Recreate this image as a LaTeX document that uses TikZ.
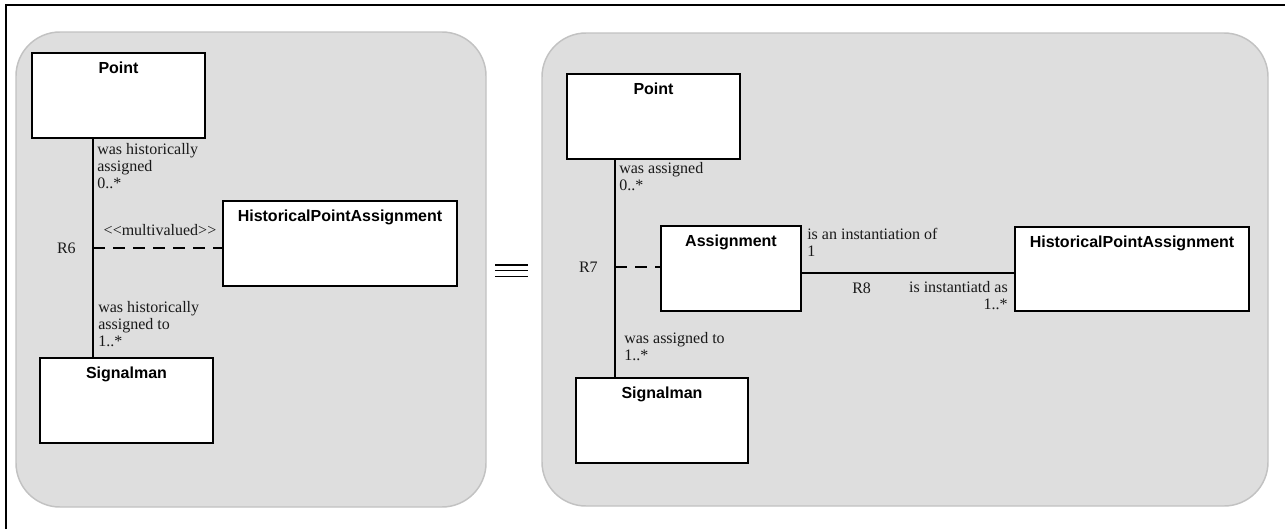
\documentclass[tikz,border=0pt]{standalone}
\usepackage{fontspec}
\setmainfont{Liberation Serif}
\newfontfamily\titlefont{Liberation Sans}
\usetikzlibrary{fit,calc}
\definecolor{panelfill}{HTML}{DEDEDE}
\definecolor{panelline}{HTML}{C2C2C2}
\tikzset{
  panel/.style={draw=panelline, fill=panelfill, line width=1.1pt, rounded corners=33pt},
  umlbox/.style={draw=black, fill=white, line width=0.9pt, inner sep=0pt},
  boxtitle/.style={font=\titlefont\bfseries\fontsize{12}{14}\selectfont, inner sep=0pt, anchor=north},
  rel/.style={draw=black, line width=0.9pt},
  dashrel/.style={draw=black, line width=0.9pt, dash pattern=on 9pt off 6pt},
  lbl/.style={font=\fontsize{12}{12.75}\selectfont, inner sep=0pt, align=left, text=black!90},
  frame/.style={draw=black, line width=2pt}
}
\begin{document}
\begin{tikzpicture}[x=0.75pt,y=-0.75pt]
\useasboundingbox (0,0) rectangle (1285,529);
% outer frame (top and left edges)
\coordinate (fa) at (6,529);
\coordinate (fb) at (6,5);
\coordinate (fc) at (1285,5);
\draw[frame] (fa) -- (fb) -- (fc);
% panels
\path[panel] (16,32) rectangle (486,507);
\path[panel] (542,33) rectangle (1268,506);
% equivalence sign
\coordinate (e1) at (495,265); \coordinate (e1e) at (528,265);
\coordinate (e2) at (495,270.5); \coordinate (e2e) at (528,270.5);
\coordinate (e3) at (495,276.5); \coordinate (e3e) at (528,276.5);
\draw[line width=1.3pt] (e1) -- (e1e) (e2) -- (e2e) (e3) -- (e3e);

% ---------- left panel ----------
\node[umlbox, fit={(32,53) (205,138)}] (lp) {};
\node[boxtitle] at ($(lp.north)+(0,9)$) {Point};
\node[umlbox, fit={(223,201) (457,286)}] (lh) {};
\node[boxtitle] at ($(lh.north)+(0,9)$) {HistoricalPointAssignment};
\node[umlbox, fit={(40,358) (213,443)}] (ls) {};
\node[boxtitle] at ($(ls.north)+(0,9)$) {Signalman};
\coordinate (r6) at (93,248);
\draw[rel] (lp.south -| r6) -- (ls.north -| r6);
\draw[dashrel] (r6) -- (lh.west |- r6);
\node[lbl, anchor=north west] (l1) at (97,143) {was historically\\assigned\\0..*};
\node[lbl, anchor=south] (l2) at (160,236) {<\kern0pt<multivalued>\kern0pt>};
\node[lbl, anchor=east] (l3) at (76,248) {R6};
\node[lbl, anchor=north west] (l4) at (98,301) {was historically\\assigned to\\1..*};

% ---------- right panel ----------
\node[umlbox, fit={(567,74) (740,159)}] (rp) {};
\node[boxtitle] at ($(rp.north)+(0,9)$) {Point};
\node[umlbox, fit={(661,226) (801,311)}] (ra) {};
\node[boxtitle] at ($(ra.north)+(0,9)$) {Assignment};
\node[umlbox, fit={(1015,227) (1249,311)}] (rh) {};
\node[boxtitle] at ($(rh.north)+(0,9)$) {HistoricalPointAssignment};
\node[umlbox, fit={(576,378) (748,463)}] (rs) {};
\node[boxtitle] at ($(rs.north)+(0,9)$) {Signalman};
\coordinate (r7) at (615,267);
\coordinate (r8) at (801,273);
\draw[rel] (rp.south -| r7) -- (rs.north -| r7);
\draw[dashrel] (r7) -- (ra.west |- r7);
\draw[rel] (r8) -- (rh.west |- r8);
\node[lbl, anchor=north west] (m1) at (619,162) {was assigned\\0..*};
\node[lbl, anchor=east] (m2) at (598,267) {R7};
\node[lbl, anchor=north west] (m3) at (807,228) {is an instantiation of\\1};
\node[lbl, anchor=west] (m4) at (852,288) {R8};
\node[lbl, anchor=north east, align=right] (m5) at (1008,281) {is instantiatd as\\1..*};
\node[lbl, anchor=north west] (m6) at (624,332) {was assigned to\\1..*};
\end{tikzpicture}
\end{document}
